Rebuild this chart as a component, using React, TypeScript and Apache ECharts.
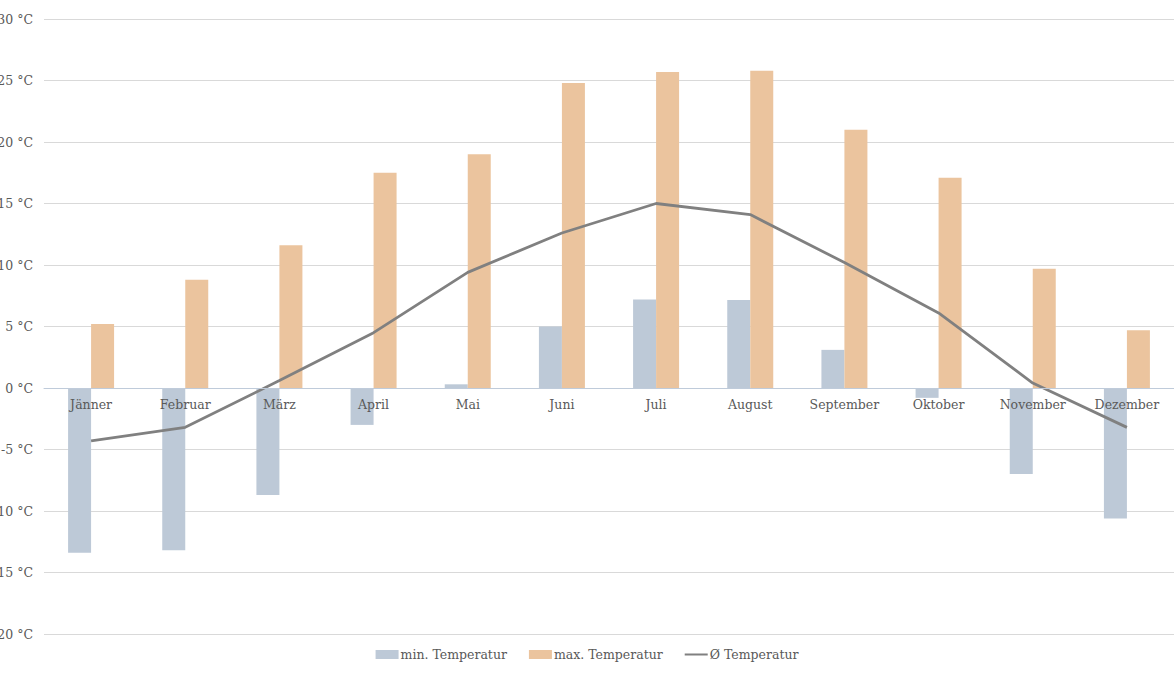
import React, { useEffect, useRef } from "react";
import * as echarts from "echarts";

const months = ["Jänner", "Februar", "März", "April", "Mai", "Juni", "Juli", "August", "September", "Oktober", "November", "Dezember"];
const minTemp = [-13.4, -13.2, -8.7, -3.0, 0.3, 5.0, 7.2, 7.15, 3.1, -0.8, -7.0, -10.6];
const maxTemp = [5.2, 8.8, 11.6, 17.5, 19.0, 24.8, 25.7, 25.8, 21.0, 17.1, 9.7, 4.7];
const avgTemp = [-4.3, -3.2, 0.6, 4.5, 9.4, 12.6, 15.0, 14.1, 10.2, 6.1, 0.4, -3.2];

const FONT = "DejaVu Serif";
const TEXT = "#595959";
const LINE_ICON = "path://M0,0 L23,0 L23,0.01 Z M0,3.5 H23 V5.5 H0 Z M0,9 L23,9 L23,8.99 Z";

export default function App() {
  const ref = useRef<HTMLDivElement>(null);
  useEffect(() => {
    if (!ref.current) return;
    const chart = echarts.init(ref.current, null, { renderer: "svg" });
    chart.setOption({
      animation: false,
      backgroundColor: "#ffffff",
      textStyle: { fontFamily: FONT },
      grid: { left: 44, right: 0, top: 19, bottom: 41, outerBoundsMode: "none", containLabel: false },
      legend: {
        bottom: 9,
        left: "center",
        itemGap: 22,
        itemWidth: 23,
        itemHeight: 9,
        textStyle: { fontFamily: FONT, fontSize: 12.5, color: TEXT, padding: [0, 0, 0, -3] },
        data: [
          { name: "min. Temperatur", icon: "rect" },
          { name: "max. Temperatur", icon: "rect" },
          { name: "Ø Temperatur", icon: LINE_ICON, itemStyle: { color: "#808080" } },
        ],
      },
      xAxis: {
        type: "category",
        data: months,
        position: "bottom",
        offset: -246,
        z: 10,
        axisLine: { onZero: false, lineStyle: { color: "#BFCBDA", width: 1 } },
        axisTick: { show: false },
        axisLabel: { fontFamily: FONT, fontSize: 12.5, color: TEXT, margin: 10 },
      },
      yAxis: {
        type: "value",
        min: -20,
        max: 30,
        interval: 5,
        axisLine: { show: false },
        axisTick: { show: false },
        splitLine: { lineStyle: { color: "#D9D9D9", width: 1 } },
        axisLabel: {
          fontFamily: FONT,
          fontSize: 12.5,
          color: TEXT,
          margin: 11,
          formatter: (v: number) => `${v} °C`,
        },
      },
      series: [
        {
          name: "min. Temperatur",
          type: "bar",
          data: minTemp,
          barWidth: 23,
          barGap: "0%",
          itemStyle: { color: "#BDC9D7" },
        },
        {
          name: "max. Temperatur",
          type: "bar",
          data: maxTemp,
          barWidth: 23,
          barGap: "0%",
          itemStyle: { color: "#EBC49E" },
        },
        {
          name: "Ø Temperatur",
          type: "line",
          data: avgTemp,
          symbol: "none",
          lineStyle: { color: "#808080", width: 2.8 },
          itemStyle: { color: "#808080" },
          z: 5,
        },
      ],
    });
    return () => chart.dispose();
  }, []);
  return <div ref={ref} style={{ position: "absolute", left: 0, top: 0, width: 1174, height: 675 }} />;
}
